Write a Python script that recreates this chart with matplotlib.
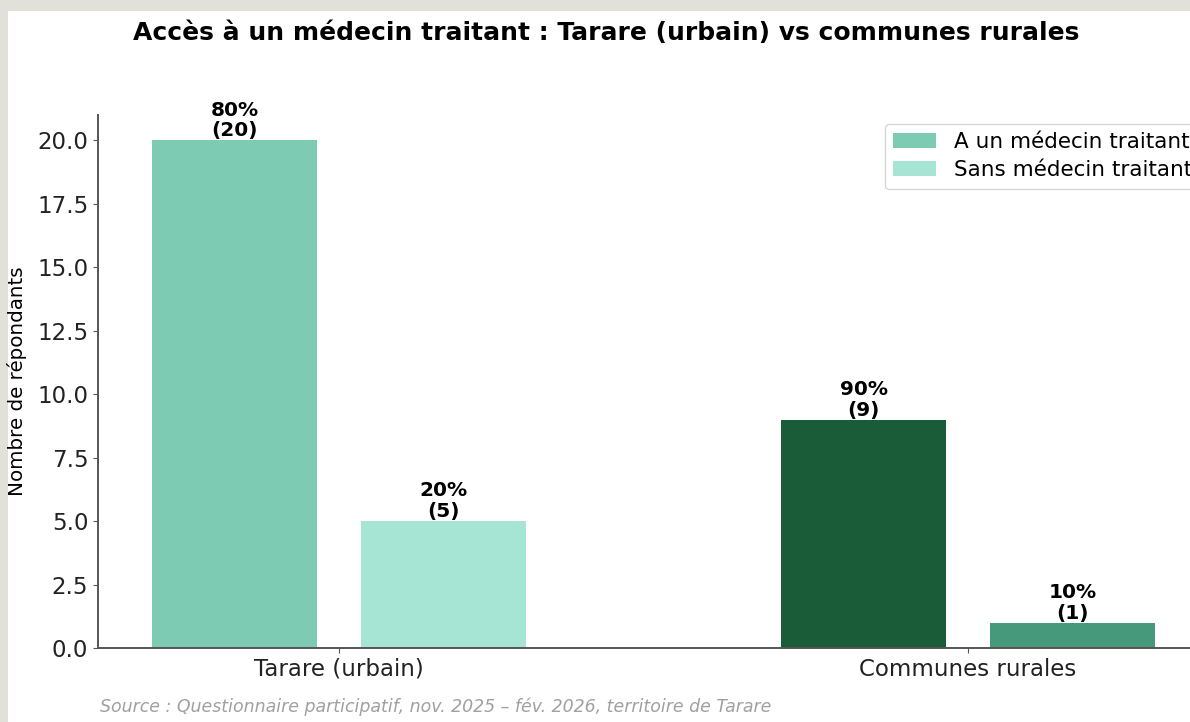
import matplotlib
matplotlib.use("Agg")
import matplotlib.pyplot as plt
from matplotlib.patches import Rectangle
import numpy as np

categories = ["Tarare (urbain)", "Communes rurales"]
avec_medecin = [20, 9]
sans_medecin = [5, 1]
pct_avec = ["80%", "90%"]
pct_sans = ["20%", "10%"]
series_labels = ["A un médecin traitant", "Sans médecin traitant"]
colors_avec = ["#7ccbb2", "#1b5c38"]
colors_sans = ["#a6e5d3", "#46997a"]

title = "Accès à un médecin traitant : Tarare (urbain) vs communes rurales"
ylabel = "Nombre de répondants"
source = "Source : Questionnaire participatif, nov. 2025 – fév. 2026, territoire de Tarare"

W, H = 1190, 722
fig = plt.figure(figsize=(W / 100, H / 100), dpi=100, facecolor="#e1e1da")
fig.patches.append(Rectangle((8 / W, 0), 1, (H - 11) / H, transform=fig.transFigure,
                             facecolor="white", edgecolor="none", zorder=-10))

ax = fig.add_axes([98 / W, (H - 648) / H, (1209 - 98) / W, (648 - 115) / H])
ax.set_facecolor("white")

x = np.arange(len(categories))
width = 0.262
off = 0.166
ax.bar(x - off, avec_medecin, width, color=colors_avec, label=series_labels[0])
ax.bar(x + off, sans_medecin, width, color=colors_sans, label=series_labels[1])

for i in range(len(categories)):
    ax.text(x[i] - off, avec_medecin[i], f"{pct_avec[i]}\n({avec_medecin[i]})",
            ha="center", va="bottom", fontsize=14.5, fontweight="bold",
            linespacing=1.12)
    ax.text(x[i] + off, sans_medecin[i], f"{pct_sans[i]}\n({sans_medecin[i]})",
            ha="center", va="bottom", fontsize=14.5, fontweight="bold",
            linespacing=1.12)

ax.set_xlim(-0.383, 1.383)
ax.set_ylim(0, 21)
ax.set_yticks(np.arange(0, 20.1, 2.5))
ax.set_xticks(x)
ax.set_xticklabels(categories)
ax.tick_params(axis="both", labelsize=16.5, colors="#222222")
ax.tick_params(axis="both", color="#555555")
for s in ["top", "right"]:
    ax.spines[s].set_visible(False)
for s in ["left", "bottom"]:
    ax.spines[s].set_color("#555555")
    ax.spines[s].set_linewidth(1.4)

ax.set_ylabel(ylabel, fontsize=14.3)
ax.yaxis.set_label_coords(-0.064, 0.5)

leg = ax.legend(loc="upper right", fontsize=15.5, frameon=True,
                labelspacing=0.38, borderaxespad=0.4)

fig.text(606 / W, 1 - 33 / H, title, ha="center", va="center",
         fontsize=18, fontweight="bold")
fig.text(100 / W, 1 - 707 / H, source, ha="left", va="center",
         fontsize=12.5, style="italic", color="#a0a0a0")

fig.savefig("out.png", dpi=100, facecolor=fig.get_facecolor())
